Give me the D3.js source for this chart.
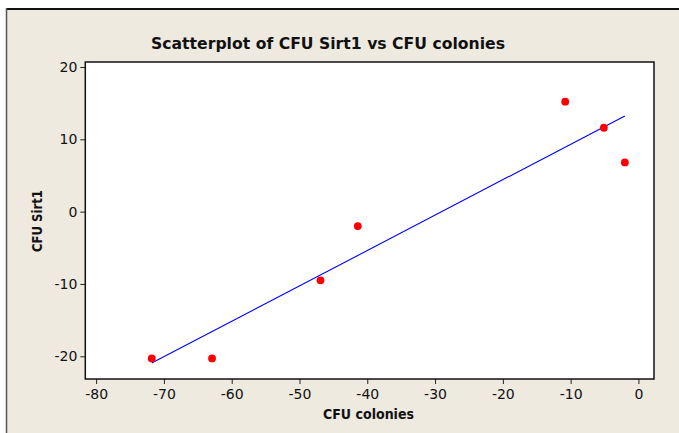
<!DOCTYPE html>
<html>
<head>
<meta charset="utf-8">
<script src="https://cdn.jsdelivr.net/npm/d3@7"></script>
<style>
  body { margin: 0; background: #fff; }
  svg { display: block; }
</style>
</head>
<body>
<svg id="chart"></svg>
<script>
// data
var cfuColonies = [-71.8, -62.9, -46.9, -41.4, -10.8, -5.1, -2.0];
var cfuSirt1    = [-20.3, -20.3, -9.5, -2.0, 15.2, 11.6, 6.8];
var xTicks = [-80, -70, -60, -50, -40, -30, -20, -10, 0];
var yTicks = [-20, -10, 0, 10, 20];

const width = 679, height = 433;
const plot = { left: 85.3, right: 654, top: 62, bottom: 379 };

var svg = d3.select('#chart')
    .attr('width', width)
    .attr('height', height);

// beige page with the window-ish edge lines
svg.append('rect')
    .attr('x', 7).attr('y', 10)
    .attr('width', width - 7).attr('height', height - 10)
    .attr('fill', '#EEEAE0');
svg.append('line')
    .attr('x1', 6).attr('x2', width).attr('y1', 9).attr('y2', 9)
    .attr('stroke', '#111').attr('stroke-width', 2);
svg.append('line')
    .attr('x1', 6.5).attr('x2', 6.5).attr('y1', 8).attr('y2', height)
    .attr('stroke', '#555').attr('stroke-width', 1.5);

const x = d3.scaleLinear()
    .domain([-81.6, 2.3])
    .range([plot.left, plot.right]);

const y = d3.scaleLinear()
    .domain([-23.14, 20.69])
    .range([plot.bottom, plot.top]);

// plot area
svg.append('rect')
    .attr('x', plot.left).attr('y', plot.top)
    .attr('width', plot.right - plot.left)
    .attr('height', plot.bottom - plot.top)
    .attr('fill', '#fff');

// axes
const xAxis = d3.axisBottom(x).tickValues(xTicks).tickSize(5).tickPadding(5).tickFormat(d3.format('d'));
const yAxis = d3.axisLeft(y).tickValues(yTicks).tickSize(5).tickPadding(3).tickFormat(d3.format('d'));

var gx = svg.append('g')
    .attr('transform', `translate(0,${plot.bottom})`)
    .call(xAxis);
var gy = svg.append('g')
    .attr('transform', `translate(${plot.left},0)`)
    .call(yAxis);

[gx, gy].forEach(function (g) {
    g.select('.domain').remove();
    g.selectAll('line').attr('stroke', '#222');
    g.selectAll('text')
        .attr('fill', '#111')
        .style('font-family', 'DejaVu Sans')
        .style('font-size', '14px');
});
// d3 uses a real minus sign, the picture uses a hyphen
gx.selectAll('text').text(d => String(d));
gy.selectAll('text').text(d => String(d));

// least squares fit line
var mx = d3.mean(cfuColonies), my = d3.mean(cfuSirt1);
var sxy = d3.sum(cfuColonies, (v, i) => (v - mx) * (cfuSirt1[i] - my));
var sxx = d3.sum(cfuColonies, v => (v - mx) * (v - mx));
var slope = sxy / sxx, intercept = my - slope * mx;
var fitX = d3.extent(cfuColonies);

svg.append('line')
    .attr('x1', x(fitX[0])).attr('y1', y(intercept + slope * fitX[0]))
    .attr('x2', x(fitX[1])).attr('y2', y(intercept + slope * fitX[1]))
    .attr('stroke', '#0000FF')
    .attr('stroke-width', 1.1);

svg.append('g')
    .selectAll('circle')
    .data(cfuColonies.map((v, i) => [v, cfuSirt1[i]]))
    .join('circle')
    .attr('cx', d => x(d[0]))
    .attr('cy', d => y(d[1]))
    .attr('r', 3.9)
    .attr('fill', '#FF0000');

// frame
svg.append('rect')
    .attr('x', plot.left).attr('y', plot.top)
    .attr('width', plot.right - plot.left)
    .attr('height', plot.bottom - plot.top)
    .attr('fill', 'none')
    .attr('stroke', '#111')
    .attr('stroke-width', 1.5);

// titles
svg.append('text')
    .attr('x', 328).attr('y', 49)
    .attr('text-anchor', 'middle')
    .attr('textLength', 354)
    .attr('lengthAdjust', 'spacingAndGlyphs')
    .style('font-family', 'DejaVu Sans')
    .style('font-weight', 'bold')
    .style('font-size', '16.5px')
    .attr('fill', '#111')
    .text('Scatterplot of CFU Sirt1 vs CFU colonies');

svg.append('text')
    .attr('x', 368.5).attr('y', 419)
    .attr('text-anchor', 'middle')
    .attr('textLength', 91)
    .attr('lengthAdjust', 'spacingAndGlyphs')
    .style('font-family', 'DejaVu Sans')
    .style('font-weight', 'bold')
    .style('font-size', '14.5px')
    .attr('fill', '#111')
    .text('CFU colonies');

svg.append('text')
    .attr('transform', 'translate(42,221) rotate(-90)')
    .attr('text-anchor', 'middle')
    .attr('textLength', 62)
    .attr('lengthAdjust', 'spacingAndGlyphs')
    .style('font-family', 'DejaVu Sans')
    .style('font-weight', 'bold')
    .style('font-size', '14.5px')
    .attr('fill', '#111')
    .text('CFU Sirt1');
</script>
</body>
</html>
